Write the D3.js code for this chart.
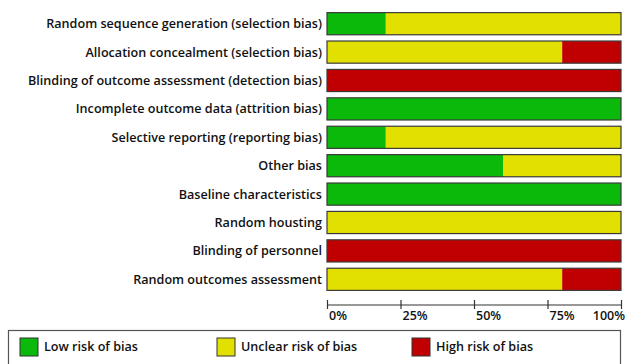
<!DOCTYPE html>
<html>
<head>
<meta charset="utf-8">
<script src="https://cdn.jsdelivr.net/npm/d3@7/dist/d3.min.js"></script>
<style>
  html, body { margin: 0; padding: 0; background: #fff; }
  svg { display: block; }
  text { font-family: "Open Sans", sans-serif; fill: #111; }
</style>
</head>
<body>
<svg id="chart" width="625" height="364"></svg>
<script>
// Risk-of-bias domains, top to bottom
const domains = [
  "Random sequence generation (selection bias)",
  "Allocation concealment (selection bias)",
  "Blinding of outcome assessment (detection bias)",
  "Incomplete outcome data (attrition bias)",
  "Selective reporting (reporting bias)",
  "Other bias",
  "Baseline characteristics",
  "Random housting",
  "Blinding of personnel",
  "Random outcomes assessment"
];

// Percentage of studies per judgement
const lowRisk     = [20, 0, 0, 100, 20, 60, 100, 0, 0, 0];
const unclearRisk = [80, 80, 0, 0, 80, 40, 0, 100, 0, 80];
const highRisk    = [0, 20, 100, 0, 0, 0, 0, 0, 100, 20];

const tickValues = [0, 25, 50, 75, 100];
const tickLabels = ["0%", "25%", "50%", "75%", "100%"];

const judgements = ["Low risk of bias", "Unclear risk of bias", "High risk of bias"];
const colors = ["#0ab90a", "#e2e000", "#c00000"];

const svg = d3.select("#chart");

const x = d3.scaleLinear().domain([0, 100]).range([327, 621]);
const y = d3.scaleBand().domain(domains).range([9.5, 293.5])
  .paddingInner(0.22).paddingOuter(0.11);

const rows = domains.map((d, i) => ({
  domain: d,
  values: [lowRisk[i], unclearRisk[i], highRisk[i]]
}));

// Stacked segments
const stack = d3.stack().keys([0, 1, 2]).value((r, k) => r.values[k]);
const layers = stack(rows);

const g = svg.append("g");
layers.forEach((layer, k) => {
  g.selectAll(null)
    .data(layer.filter(s => s[1] > s[0]))
    .join("rect")
    .attr("x", s => x(s[0]))
    .attr("y", s => y(s.data.domain))
    .attr("width", s => x(s[1]) - x(s[0]))
    .attr("height", y.bandwidth())
    .attr("fill", colors[k]);
});

// Bar outlines
g.selectAll(null)
  .data(domains)
  .join("rect")
  .attr("x", x(0))
  .attr("y", d => y(d))
  .attr("width", x(100) - x(0))
  .attr("height", y.bandwidth())
  .attr("fill", "none")
  .attr("stroke", "#3a3a3a")
  .attr("stroke-width", 1.2);

// Domain labels
svg.append("g").selectAll("text")
  .data(domains)
  .join("text")
  .attr("x", 322)
  .attr("y", d => y(d) + y.bandwidth() / 2)
  .attr("dy", "0.35em")
  .attr("text-anchor", "end")
  .attr("font-size", 12.6)
  .attr("font-weight", 600)
  .text(d => d);

// Percentage axis
const axisY = 305;
const axis = d3.axisBottom(x).tickValues(tickValues).tickSize(4).tickFormat("");
const ax = svg.append("g").attr("transform", `translate(0,${axisY})`).call(axis);
ax.select(".domain").attr("stroke", "#333").attr("stroke-width", 1.2)
  .attr("d", `M${x(0)},0H${x(100)}`);
ax.selectAll(".tick line").attr("y1", -5).attr("y2", 4)
  .attr("stroke", "#333").attr("stroke-width", 1.2);

svg.append("g").selectAll("text")
  .data(tickValues)
  .join("text")
  .attr("x", (v, i) => i === tickValues.length - 1 ? x(v) + 4 : x(v) + 2)
  .attr("y", 320)
  .attr("text-anchor", (v, i) => i === tickValues.length - 1 ? "end" : "start")
  .attr("font-size", 12.5)
  .attr("font-weight", 600)
  .text((v, i) => tickLabels[i]);

// Legend
const legend = svg.append("g");
legend.append("rect")
  .attr("x", 8.5).attr("y", 330.5)
  .attr("width", 612).attr("height", 60)
  .attr("fill", "none").attr("stroke", "#555").attr("stroke-width", 1.2);

const legendX = [20, 217, 412];
const items = legend.selectAll("g.item")
  .data(judgements)
  .join("g")
  .attr("class", "item")
  .attr("transform", (d, i) => `translate(${legendX[i]},338)`);
items.append("rect")
  .attr("width", 18).attr("height", 18)
  .attr("fill", (d, i) => colors[i])
  .attr("stroke", "#333").attr("stroke-width", 1);
items.append("text")
  .attr("x", 24).attr("y", 9)
  .attr("dy", "0.35em")
  .attr("font-size", 12.6)
  .attr("font-weight", 600)
  .text(d => d);
</script>
</body>
</html>
